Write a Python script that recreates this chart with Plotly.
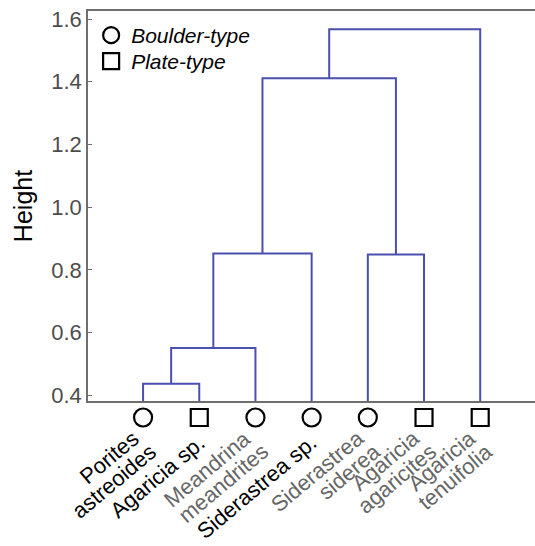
import math
import plotly.graph_objects as go

# ---- data ----
species_lines = [["Porites", "astreoides"], ["Agaricia sp."], ["Meandrina", "meandrites"],
                 ["Siderastrea sp."], ["Siderastrea", "siderea"], ["Agaricia", "agaricites"],
                 ["Agaricia", "tenuifolia"]]
label_colors = ["#000000", "#000000", "#666666", "#000000", "#666666", "#666666", "#666666"]
growth_form = ["Boulder-type", "Plate-type", "Boulder-type", "Boulder-type",
               "Boulder-type", "Plate-type", "Plate-type"]
legend_forms = ["Boulder-type", "Plate-type"]
legend_symbols = ["circle-open", "square-open"]
# linkage (scipy style): clusters 0..6 are leaves, new clusters numbered 7,8,...
link_a = [0, 7, 8, 4, 9, 11]
link_b = [1, 2, 3, 5, 10, 6]
link_h = [0.437, 0.551, 0.852, 0.849, 1.411, 1.567]
y_ticks = [0.4, 0.6, 0.8, 1.0, 1.2, 1.4, 1.6]

n = len(species_lines)
leaf_x = list(range(1, n + 1))
base = 0.0

# build dendrogram segments
pos = {i: (leaf_x[i], base) for i in range(n)}
xs, ys = [], []
for k, (a, b, h) in enumerate(zip(link_a, link_b, link_h)):
    xa, ya = pos[a]
    xb, yb = pos[b]
    xs += [xa, xa, xb, xb, None]
    ys += [ya, h, h, yb, None]
    pos[n + k] = ((xa + xb) / 2, h)

# ---- layout geometry (px) ----
W, H = 535, 546
left_px = 88
top_px = 11
axis_px = 401          # bottom x-axis line
plot_bottom_px = 432   # bottom of marker strip
plot_h = plot_bottom_px - top_px
dom_split = (plot_bottom_px - axis_px) / plot_h


def py(ypx):
    return (plot_bottom_px - ypx) / plot_h


line_color = "#4b4fae"
fig = go.Figure()
fig.add_trace(go.Scatter(x=xs, y=ys, mode="lines", line=dict(color=line_color, width=2),
                         showlegend=False, hoverinfo="skip", xaxis="x", yaxis="y"))

marker_y = (plot_bottom_px - 417.5) / (plot_bottom_px - axis_px)
sizes = {"circle-open": 18, "square-open": 17}
for j, (form, sym) in enumerate(zip(legend_forms, legend_symbols)):
    xv = [leaf_x[i] for i in range(n) if growth_form[i] == form]
    fig.add_trace(go.Scatter(x=xv, y=[marker_y] * len(xv), mode="markers", name=form,
                             marker=dict(symbol=sym, size=sizes[sym], color="black",
                                         line=dict(width=2.2, color="black")),
                             xaxis="x", yaxis="y2", hoverinfo="skip",
                             legend="legend" if j == 0 else "legend2"))

# text width estimate (Arial / Liberation Sans metrics, per 1000 em)
CW = {'a': 556, 'b': 556, 'c': 500, 'd': 556, 'e': 556, 'f': 278, 'g': 556, 'h': 556,
      'i': 222, 'l': 222, 'm': 833, 'n': 556, 'o': 556, 'p': 556, 'r': 333, 's': 500,
      't': 278, 'u': 556, ' ': 278, '.': 278, 'A': 667, 'M': 833, 'P': 667, 'S': 667}
FS = 22


def text_w(s):
    return sum(CW.get(ch, 556) for ch in s) / 1000 * FS


ang = math.radians(40)
ca, sa = math.cos(ang), math.sin(ang)
mid_above_base = 0.33 * FS
# desired baseline end point of each rotated line: (dx from leaf in px, y in px)
end_single = (7, 445)
end_l1 = (-3, 441)
end_l2 = (14, 454)
for i, lines in enumerate(species_lines):
    ends = [end_single] if len(lines) == 1 else [end_l1, end_l2]
    for txt, (ex, ey) in zip(lines, ends):
        w = text_w(txt)
        cx = ex - w / 2 * ca - mid_above_base * sa
        cy = ey + w / 2 * sa - mid_above_base * ca
        fig.add_annotation(x=leaf_x[i], xref="x", xshift=cx, y=py(cy), yref="paper",
                           text=txt, textangle=-40, showarrow=False,
                           xanchor="center", yanchor="middle",
                           font=dict(size=FS, color=label_colors[i]))

legend_common = dict(xanchor="left", yanchor="top",
                     font=dict(size=21, color="black", style="italic"),
                     bgcolor="rgba(0,0,0,0)")

fig.update_layout(
    width=W, height=H,
    margin=dict(l=left_px, r=0, t=top_px, b=H - plot_bottom_px),
    plot_bgcolor="white", paper_bgcolor="white",
    font=dict(family="Liberation Sans, Arial, sans-serif", size=22, color="#4d4d4d"),
    legend=dict(x=0.007, y=py(15), **legend_common),
    legend2=dict(x=0.007, y=py(41), **legend_common),
    xaxis=dict(range=[0.02, 7.975], showticklabels=False, ticks="", automargin=False,
               showgrid=False, zeroline=False, showline=True, anchor="y",
               linecolor="#6e6e6e", linewidth=1.5, mirror=True),
    yaxis=dict(domain=[dom_split, 1], range=[0.382, 1.6255], tickvals=y_ticks,
               ticktext=[f"{v:.1f}" for v in y_ticks],
               ticks="inside", ticklen=4, tickcolor="#6e6e6e", showgrid=False,
               zeroline=False, showline=True, linecolor="#6e6e6e", linewidth=1.5,
               title=dict(text="Height", font=dict(size=25, color="black"), standoff=12)),
    yaxis2=dict(domain=[0, dom_split], range=[0, 1], visible=False, anchor="x"),
)

fig.write_html("out.html")
